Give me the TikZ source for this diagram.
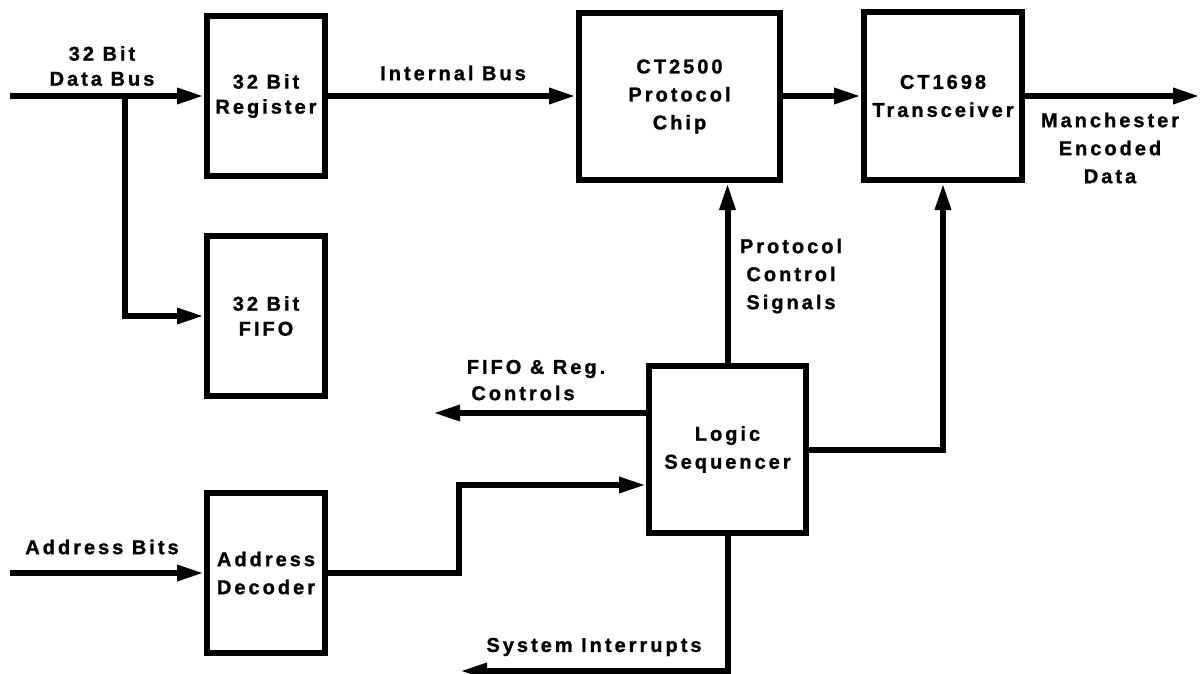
\documentclass[tikz,border=0pt]{standalone}
\usepackage{fontspec}
\setmainfont{Liberation Sans}[LetterSpace=15,FakeBold=1.2]
\usetikzlibrary{arrows.meta}
\newcommand\lblfont{\bfseries\fontsize{20}{28}\selectfont}
\newcommand\tightfont{\bfseries\fontsize{20}{25}\selectfont}
\begin{document}
\begin{tikzpicture}[x=1pt,y=-1pt,
  box/.style={draw,line width=6pt,inner sep=0pt,align=center,font=\lblfont},
  conn/.style={line width=6pt,line join=miter},
  arr/.style={conn,-{Triangle[length=27pt,width=15pt]}},
  lbl/.style={inner sep=0pt,align=center,font=\lblfont}]
\useasboundingbox[fill=white] (0,0) rectangle (1200,674);

% boxes
\node[box,minimum width=118pt,minimum height=160pt,font=\tightfont] (reg) at (266,96) {32 Bit\\Register};
\node[box,minimum width=118pt,minimum height=160pt,font=\tightfont] (fifo) at (266,316) {32 Bit\\FIFO};
\node[box,minimum width=118pt,minimum height=160pt] (dec) at (266,573) {Address\\Decoder};
\node[box,minimum width=201pt,minimum height=167pt] (chip) at (679.5,96.5) {CT2500\\Protocol\\Chip};
\node[box,minimum width=158pt,minimum height=168pt] (trx) at (943,96) {CT1698\\Transceiver};
\node[box,minimum width=157pt,minimum height=167pt] (seq) at (727.5,449.5) {Logic\\Sequencer};

% free ends
\coordinate (dbin) at (10,96);
\coordinate (br) at (125,96);
\coordinate (out) at (1200,96);
\coordinate (fc) at (433,413);
\coordinate (ab) at (10,573);
\coordinate (jog) at (459,485);
\coordinate (si) at (460,671);

% connectors
\draw[arr] (dbin) -- (reg.west);
\draw[arr] (br) |- (fifo.west);
\draw[arr] (reg.east) -- (reg.east -| chip.west);
\draw[arr] (chip.east |- trx.west) -- (trx.west);
\draw[arr] (trx.east) -- (out);
\draw[arr] (seq.north) -- (seq.north |- chip.south);
\draw[arr] (seq.east) -| (trx.south);
\draw[arr] (seq.west |- fc) -- (fc);
\draw[arr] (dec.east) -| (jog) -- (jog -| seq.west);
\draw[arr] (ab) -- (dec.west);
\draw[arr] (seq.south) |- (si);

% labels
\node[lbl,font=\tightfont] (ldb) at (102,66) {32 Bit\\Data Bus};
\node[lbl] (lib) at (453,73) {Internal Bus};
\node[lbl] (lmed) at (1110,148) {Manchester\\Encoded\\Data};
\node[lbl] (lpcs) at (791,276) {Protocol\\Control\\Signals};
\node[lbl] (lfr1) at (536,369) {FIFO \& Reg.};
\node[lbl] (lfr2) at (523,393) {Controls};
\node[lbl] (lab) at (102,547) {Address Bits};
\node[lbl] (lsi) at (594,647) {System Interrupts};
\end{tikzpicture}
\end{document}
